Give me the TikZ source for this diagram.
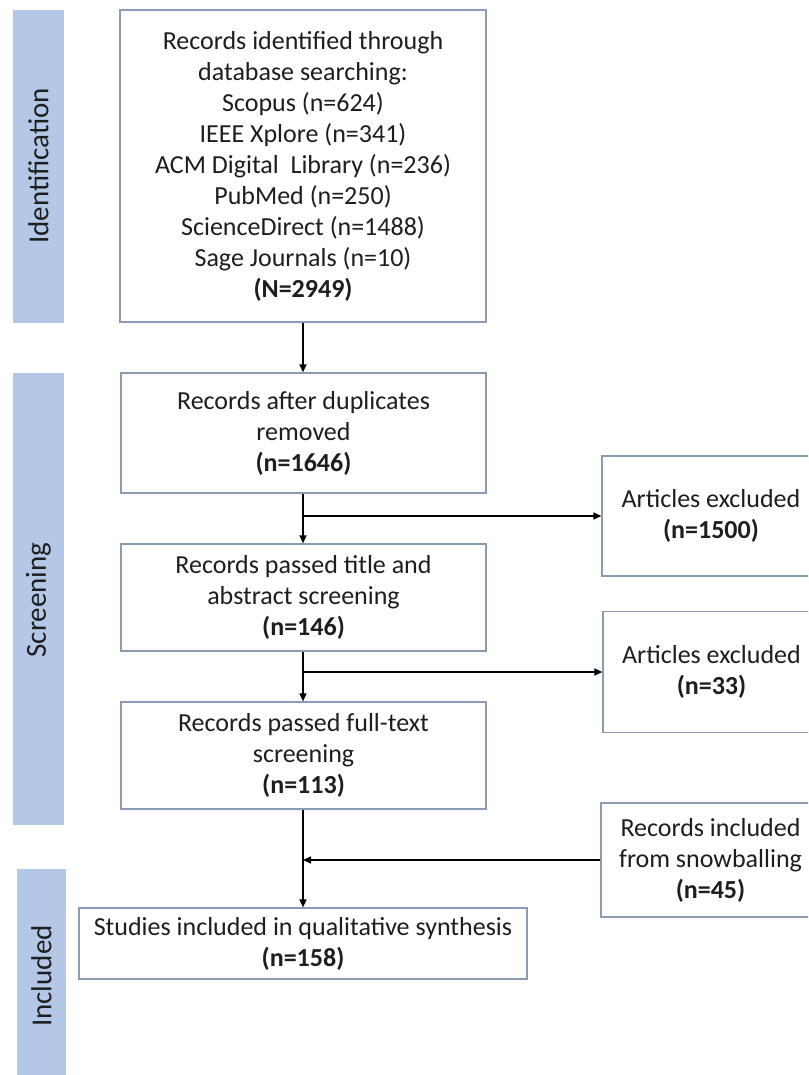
\documentclass[tikz,border=0pt]{standalone}
\usepackage{fontspec}
\setmainfont{Carlito}
\usetikzlibrary{arrows.meta}
\definecolor{barblue}{RGB}{180,199,231}
\definecolor{boxline}{RGB}{140,155,180}
\definecolor{txt}{RGB}{30,30,30}
\tikzset{
  bar/.style={fill=barblue,draw=none,anchor=center,inner sep=0pt},
  barlabel/.style={rotate=90,text=txt,font=\fontsize{29}{34}\selectfont},
  flowbox/.style={draw=boxline,line width=1.2pt,fill=white,align=center,text=txt,
    font=\fontsize{26}{31}\selectfont,inner sep=0pt,anchor=center},
  conn/.style={line width=1.5pt,draw=black,-{Triangle[length=8pt,width=7pt]}}
}
\begin{document}
\begin{tikzpicture}[x=1pt,y=-1pt]
\useasboundingbox (0,0) rectangle (808,1075);
\clip (0,0) rectangle (808,1075);
% phase bars
\node[bar,minimum width=51pt,minimum height=313pt] (bid) at (38.5,166.5) {};
\node[barlabel] at (38.5,166) {Identification};
\node[bar,minimum width=51pt,minimum height=452pt] (bsc) at (38.5,599) {};
\node[barlabel] at (38.5,600) {Screening};
\node[bar,minimum width=49pt,minimum height=210pt] (bin) at (41.5,974) {};
\node[barlabel] at (41.5,976) {Included};
% boxes
\node[flowbox,minimum width=366pt,minimum height=312pt] (id) at (303,166) {Records identified through\\database searching:\\Scopus (n=624)\\IEEE Xplore (n=341)\\ACM Digital\ \ Library (n=236)\\PubMed (n=250)\\ScienceDirect (n=1488)\\Sage Journals (n=10)\\\textbf{(N=2949)}};
\node[flowbox,minimum width=365pt,minimum height=120pt] (dup) at (303.5,433) {Records after duplicates\\removed\\\textbf{(n=1646)}};
\node[flowbox,minimum width=365pt,minimum height=107pt] (ta) at (303.5,597.5) {Records passed title and\\abstract screening\\\textbf{(n=146)}};
\node[flowbox,minimum width=365pt,minimum height=107pt] (ft) at (303.5,755.5) {Records passed full-text\\screening\\\textbf{(n=113)}};
\node[flowbox,minimum width=448pt,minimum height=71pt] (inc) at (303,943.5) {Studies included in qualitative synthesis\\\textbf{(n=158)}};
\node[flowbox,minimum width=218pt,minimum height=120pt] (ex1) at (711,516) {Articles excluded\\\textbf{(n=1500)}};
\node[flowbox,minimum width=217pt,minimum height=121pt] (ex2) at (711.5,672) {Articles excluded\\\textbf{(n=33)}};
\node[flowbox,minimum width=219pt,minimum height=114pt] (snow) at (710.5,860) {Records included\\from snowballing\\\textbf{(n=45)}};
% connectors
\coordinate (b1) at (id.south |- ex1.west);
\coordinate (b2) at (id.south |- ex2.west);
\coordinate (b3) at (id.south |- snow.west);
\draw[conn] (id.south) -- (dup.north -| id.south);
\draw[conn] (dup.south -| id.south) -- (ta.north -| id.south);
\draw[conn] (b1) -- (ex1.west);
\draw[conn] (ta.south -| id.south) -- (ft.north -| id.south);
\draw[conn] (b2) -- (ex2.west);
\draw[conn] (ft.south -| id.south) -- (inc.north);
\draw[conn] (snow.west) -- (b3);
\end{tikzpicture}
\end{document}
